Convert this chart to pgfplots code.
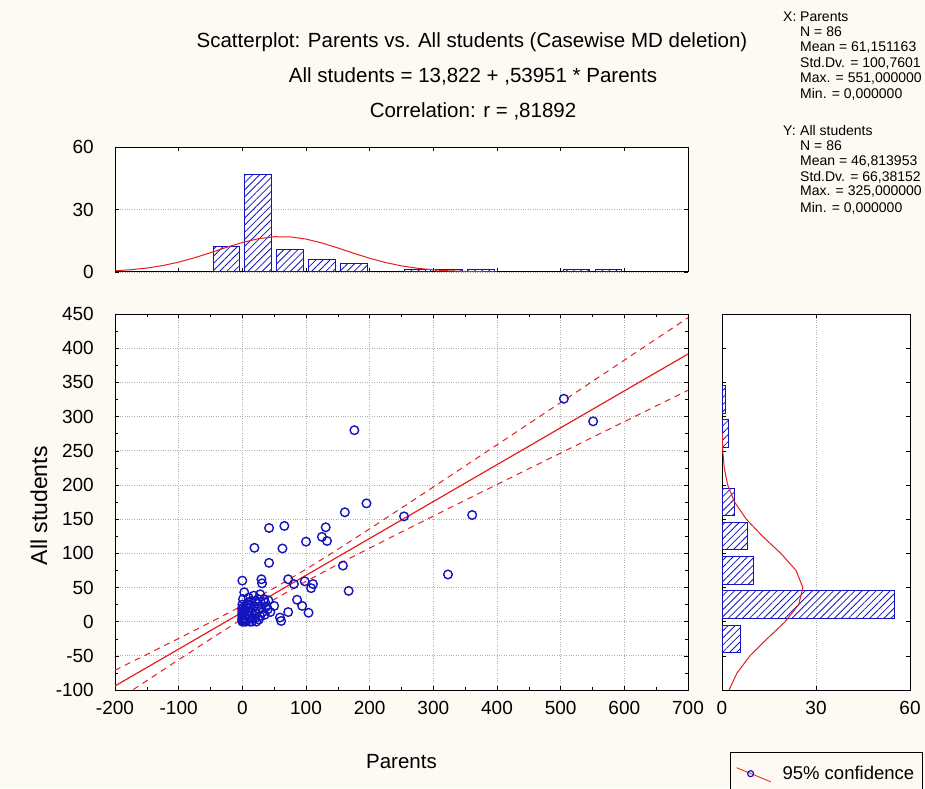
\documentclass[border=0pt]{standalone}
\usepackage{fontspec}
\setmainfont{Liberation Sans}
\usepackage{pgfplots}
\pgfplotsset{compat=1.18}
\usetikzlibrary{patterns,patterns.meta}
\definecolor{bgcol}{RGB}{252,250,242}
\definecolor{stblue}{RGB}{20,20,190}
\definecolor{stred}{RGB}{230,30,30}

\begin{document}
\begin{tikzpicture}
\path[use as bounding box, fill=bgcol] (0,0) rectangle (925pt,788pt);
\clip (0,0) rectangle (925pt,788pt);

\pgfplotsset{
  every axis/.append style={
    scale only axis, anchor=south west,
    axis background/.style={fill=white},
    tick align=inside,
    font=\fontsize{20.5}{24}\selectfont,
    tick label style={font=\fontsize{19}{22}\selectfont},
    /pgf/number format/assume math mode=true,
    grid style={dotted, gray!60, line width=0.8pt},
    tick style={black, thin},
    axis line style={black, line width=1pt},
    xticklabel style={inner sep=0pt, yshift=-11pt},
    yticklabel style={inner sep=0pt, xshift=-21pt},
  },
  hatchbar/.style={draw=stblue, line width=1pt,
    pattern={Lines[angle=45, distance=5pt, line width=0.8pt]}, pattern color=stblue},
}

% titles
\node[font=\fontsize{20.5}{24}\selectfont] at (472pt,746pt) {Scatterplot: Parents vs. All students (Casewise MD deletion)};
\node[font=\fontsize{20.5}{24}\selectfont] at (473pt,712pt) {All students = 13,822 + ,53951 * Parents};
\node[font=\fontsize{20.5}{24}\selectfont] at (473pt,677pt) {Correlation: r = ,81892};

% descriptive statistics
\begin{scope}[every node/.style={anchor=west, font=\fontsize{14}{16}\selectfont, inner sep=0pt}]
\node at (783pt,771pt) {X:};
\node at (800pt,771pt) {Parents};
\node at (800pt,756pt) {N = 86};
\node at (800pt,740pt) {Mean = 61,151163};
\node at (800pt,725pt) {Std.Dv. = 100,7601};
\node at (800pt,709pt) {Max. = 551,000000};
\node at (800pt,694pt) {Min. = 0,000000};
\node at (783pt,657pt) {Y:};
\node at (800pt,657pt) {All students};
\node at (800pt,642pt) {N = 86};
\node at (800pt,626pt) {Mean = 46,813953};
\node at (800pt,611pt) {Std.Dv. = 66,38152};
\node at (800pt,596pt) {Max. = 325,000000};
\node at (800pt,580pt) {Min. = 0,000000};
\end{scope}

% main scatterplot
\begin{axis}[
  at={(115pt,98pt)}, width=573pt, height=376pt,
  xmin=-200, xmax=700, ymin=-100, ymax=450,
  xtick={-200,-100,...,700}, ytick={-100,-50,...,450},
  grid=major, minor tick num=1,
  xlabel={Parents}, ylabel={All students},
  xlabel style={at={(axis description cs:0.5,-0.191)}, anchor=center},
  ylabel style={at={(axis description cs:-0.133,0.49)}, anchor=center, font=\fontsize{23}{26}\selectfont},
  legend style={at={(axis description cs:1.0733,-0.165)}, anchor=north west,
    draw=black, fill=bgcol, font=\fontsize{18.5}{22}\selectfont,
    inner xsep=6pt, inner ysep=12pt},
]
\addlegendimage{legend image code/.code={
  \path[draw=none] (0pt,0pt) -- (44pt,0pt);
  \draw[stred, line width=0.8pt] (0pt,6pt) -- (34pt,-8pt);
  \draw[stblue, line width=1.2pt] (14pt,0pt) circle (3pt);}}
\addlegendentry{95\% confidence}
\addplot[only marks, mark=o, mark size=4.3pt, stblue, line width=1.4pt, forget plot] coordinates {
  (505,326)(551,293)(176,280)(195,173)(161,160)(254,154)(361,156)(323,69)(167,45)(158,82)
  (42,137)(66,140)(131,138)(125,124)(133,118)(100,117)(19,108)(63,107)(42,86)
  (0,60)(30,62)(31,56)(72,62)(81,55)(98,59)(111,55)(108,49)(3,43)(1,33)(86,32)
  (94,23)(104,13)(72,14)(61,1)(59,6)(44,14)(50,23)(41,31)(25,33)(7,26)(11,16)
  (12,0)(22,0)(6,0)(3,0)(36,28)(34,33)(0,0)(15,0)
  (0,5)(0,10)(0,15)(0,20)(0,3)(0,8)(0,25)(0,12)(0,18)(0,2)
  (5,5)(8,10)(10,20)(12,8)(15,14)(18,22)(20,5)(22,12)(25,18)(28,8)(30,20)(32,14)
  (35,10)(38,22)(40,18)(14,30)(18,38)(24,26)(10,35)(6,12)(16,4)(26,3)(9,28)(20,30)
  (28,40)(13,24)(4,18)
};
\addplot[stred, line width=1.2pt, forget plot] coordinates {(-200,-94.08)(700,391.48)};
\addplot[stred, line width=1pt, dash pattern=on 6pt off 5pt, forget plot] coordinates {
  (-200,-71.13)(-150,-47.92)(-100,-24.56)(-50,-0.87)(0,23.45)(50,49.07)(100,76.59)
  (150,105.74)(200,135.77)(250,166.24)(300,196.93)(400,258.63)(500,320.51)(600,382.50)(700,444.54)
};
\addplot[stred, line width=1pt, dash pattern=on 6pt off 5pt, forget plot] coordinates {
  (-200,-117.03)(-150,-86.28)(-100,-55.70)(-50,-25.43)(0,4.19)(50,32.53)(100,58.95)
  (150,83.76)(200,107.67)(250,131.16)(300,154.43)(400,200.63)(500,246.65)(600,292.56)(700,338.42)
};
\end{axis}

% histogram of Parents
\begin{axis}[
  at={(115pt,516pt)}, width=573pt, height=125pt,
  xmin=-200, xmax=700, ymin=0, ymax=60,
  xtick={-200,-100,...,700}, xticklabels={},
  ytick={0,30,60}, ymajorgrids,
]
\addplot[ybar, bar width=42, hatchbar] coordinates {
  (-25,12)(25,47)(75,11)(125,6)(175,4)(275,1)(325,1)(375,1)(525,1)(575,1)
};
\addplot[stred, line width=1pt] coordinates {
  (-200,0.59)(-175,1.09)(-150,1.89)(-125,3.09)(-100,4.74)(-75,6.83)(-50,9.27)(-25,11.82)
  (0,14.17)(25,15.97)(50,16.93)(75,16.87)(100,15.81)(125,13.93)(150,11.54)(175,8.99)
  (200,6.59)(225,4.54)(250,2.94)(275,1.79)(300,1.02)(325,0.55)(350,0.28)(375,0.13)(400,0.06)
};
\end{axis}

% histogram of All students
\begin{axis}[
  at={(722pt,98pt)}, width=188pt, height=376pt,
  xmin=0, xmax=60, ymin=-100, ymax=450,
  xtick={0,30,60}, xmajorgrids,
  ytick={-100,-50,...,450}, yticklabels={},
]
\addplot[xbar, bar width=40, hatchbar] coordinates {
  (6,-25)(55,25)(10,75)(8,125)(4,175)(2,275)(1,325)
};
\addplot[stred, line width=1pt] coordinates {
  (2.24,-100)(4.80,-75)(8.92,-50)(14.40,-25)(20.15,0)(24.48,25)(25.81,50)(23.61,75)
  (18.74,100)(12.91,125)(7.72,150)(4.00,175)(1.80,200)(0.70,225)(0.24,250)(0.07,275)
};
\end{axis}
\end{tikzpicture}
\end{document}
